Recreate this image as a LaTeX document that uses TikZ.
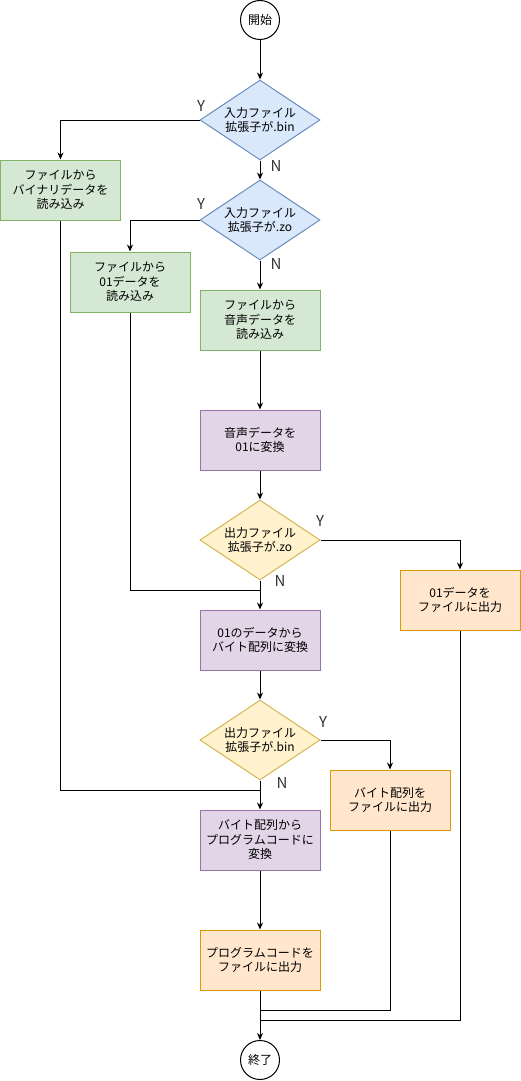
\documentclass[tikz,border=0pt]{standalone}
\usepackage{fontspec}
\setmainfont{Noto Sans CJK JP}
\usetikzlibrary{shapes.geometric,arrows.meta}
\definecolor{bfill}{HTML}{DAE8FC}\definecolor{bline}{HTML}{6C8EBF}
\definecolor{gfill}{HTML}{D5E8D4}\definecolor{gline}{HTML}{82B366}
\definecolor{pfill}{HTML}{E1D5E7}\definecolor{pline}{HTML}{9673A6}
\definecolor{yfill}{HTML}{FFF2CC}\definecolor{yline}{HTML}{D6B656}
\definecolor{ofill}{HTML}{FFE6CC}\definecolor{oline}{HTML}{D79B00}
\tikzset{
  base/.style={font=\fontsize{12}{14.5}\selectfont, align=center, line width=1pt, inner sep=0pt},
  term/.style={base, circle, draw=black, fill=white, minimum size=39pt},
  box/.style={base, rectangle, minimum width=120pt, minimum height=60pt},
  green/.style={box, draw=gline, fill=gfill},
  purple/.style={box, draw=pline, fill=pfill},
  orange/.style={box, draw=oline, fill=ofill},
  dec/.style={base, diamond, aspect=1.5, minimum width=120pt, minimum height=80pt},
  bdec/.style={dec, draw=bline, fill=bfill},
  ydec/.style={dec, draw=yline, fill=yfill},
  conn/.style={line width=1pt, -{Stealth[length=7pt,width=6pt]}},
  plain/.style={line width=1pt},
  lab/.style={font=\fontsize{15}{15}\selectfont, text=black!80, inner sep=0pt}
}
\begin{document}
\begin{tikzpicture}[x=1pt,y=-1pt]
\useasboundingbox (0,0) rectangle (521,1081);
\node[term] (start) at (260,20) {開始};
\node[bdec] (d1) at (260,120) {入力ファイル\\拡張子が.bin};
\node[green] (b1) at (60.5,190) {ファイルから\\バイナリデータを\\読み込み};
\node[bdec] (d2) at (260,220) {入力ファイル\\拡張子が.zo};
\node[green] (b2) at (130,282) {ファイルから\\01データを\\読み込み};
\node[green] (b3) at (260,320) {ファイルから\\音声データを\\読み込み};
\node[purple] (b4) at (260,440) {音声データを\\01に変換};
\node[ydec] (d3) at (260,540) {出力ファイル\\拡張子が.zo};
\node[orange] (b5) at (460,600) {01データを\\ファイルに出力};
\node[purple] (b6) at (260,640) {01のデータから\\バイト配列に変換};
\node[ydec] (d4) at (260,740) {出力ファイル\\拡張子が.bin};
\node[orange] (b7) at (390,800) {バイト配列を\\ファイルに出力};
\node[purple] (b8) at (260,840) {バイト配列から\\プログラムコードに\\変換};
\node[orange] (b9) at (260,960) {プログラムコードを\\ファイルに出力};
\node[term] (end) at (260,1060) {終了};
\coordinate (j1) at (260,590);
\coordinate (j2) at (260,790);
\coordinate (j3) at (260,1010);
\coordinate (j4) at (260,1020);
\draw[conn] (start) -- (d1);
\draw[conn] (d1.west) -| (b1.north);
\draw[conn] (d1) -- (d2);
\draw[conn] (d2.west) -| (b2.north);
\draw[conn] (d2) -- (b3);
\draw[conn] (b3) -- (b4);
\draw[conn] (b4) -- (d3);
\draw[conn] (d3.east) -| (b5.north);
\draw[conn] (d3) -- (b6);
\draw[plain] (b2.south) |- (j1);
\draw[conn] (b6) -- (d4);
\draw[conn] (d4.east) -| (b7.north);
\draw[conn] (d4) -- (b8);
\draw[plain] (b1.south) |- (j2);
\draw[conn] (b8) -- (b9);
\draw[conn] (b9) -- (end);
\draw[plain] (b7.south) |- (j3);
\draw[plain] (b5.south) |- (j4);
\node[lab] (y1) at (201,106) {Y};
\node[lab] (n1) at (276,166) {N};
\node[lab] (y2) at (201,204) {Y};
\node[lab] (n2) at (276,264) {N};
\node[lab] (y3) at (320,521) {Y};
\node[lab] (n3) at (280,581) {N};
\node[lab] (y4) at (323,722) {Y};
\node[lab] (n4) at (282,783) {N};
\end{tikzpicture}
\end{document}
